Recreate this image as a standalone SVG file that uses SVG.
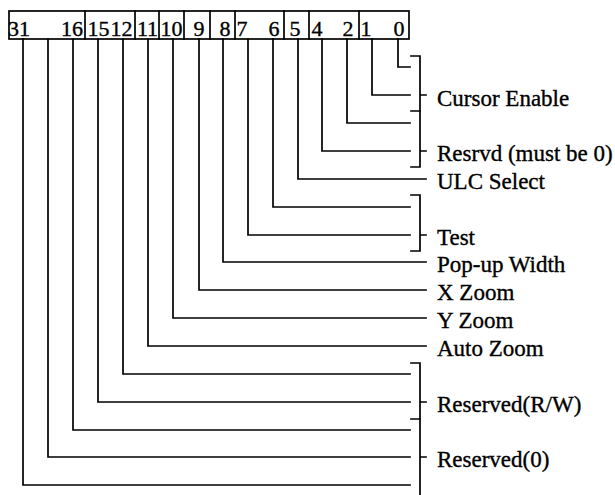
<svg xmlns="http://www.w3.org/2000/svg" width="615" height="495" viewBox="0 0 615 495">
<style>
.ln{fill:none;stroke:#000;stroke-width:1.7;stroke-linecap:square}
text{font-family:'Liberation Serif','DejaVu Serif',serif;font-size:23px;fill:#000;stroke:#000;stroke-width:0.35}
.num{text-anchor:middle;font-size:22px}
</style>
<rect width="615" height="495" fill="#fff"/>
<g id="register">
<rect class="ln" x="9" y="11" width="400" height="28"/>
<path class="ln" d="M85 11V39M135 11V39M159 11V39M184 11V39M210 11V39M235 11V39M284 11V39M309 11V39M359 11V39"/>
<text class="num" x="19" y="36">31</text>
<text class="num" x="72" y="36">16</text>
<text class="num" x="98.5" y="36">15</text>
<text class="num" x="121.5" y="36">12</text>
<text class="num" x="147.5" y="36">11</text>
<text class="num" x="171.5" y="36">10</text>
<text class="num" x="199" y="36">9</text>
<text class="num" x="225" y="36">8</text>
<text class="num" x="242" y="36">7</text>
<text class="num" x="274" y="36">6</text>
<text class="num" x="295" y="36">5</text>
<text class="num" x="317" y="36">4</text>
<text class="num" x="348" y="36">2</text>
<text class="num" x="366" y="36">1</text>
<text class="num" x="399" y="36">0</text>
</g>
<g id="connectors">
<path class="ln" d="M398 39V67H410"/>
<path class="ln" d="M372 39V95H410"/>
<path class="ln" d="M347 39V123H410"/>
<path class="ln" d="M322 39V151H410"/>
<path class="ln" d="M298 39V179H426"/>
<path class="ln" d="M273 39V207H410"/>
<path class="ln" d="M248 39V235H410"/>
<path class="ln" d="M223 39V262H426"/>
<path class="ln" d="M199 39V290H426"/>
<path class="ln" d="M173 39V318H426"/>
<path class="ln" d="M148 39V346H426"/>
<path class="ln" d="M123 39V374H410"/>
<path class="ln" d="M98 39V402H410"/>
<path class="ln" d="M73 39V430H410"/>
<path class="ln" d="M48 39V457H410"/>
<path class="ln" d="M23 39V485H410"/>
<path class="ln" d="M411 56H420V111H411M420 95H426"/>
<path class="ln" d="M420 111V167H411M420 151H426"/>
<path class="ln" d="M411 195H420V251H411M420 235H426"/>
<path class="ln" d="M411 363H420V419H411M420 402H426"/>
<path class="ln" d="M420 419V495M420 457H426"/>
</g>
<g id="label-cursor-enable"><text x="437" y="106">Cursor Enable</text></g>
<g id="label-resrvd"><text x="437" y="161">Resrvd (must be 0)</text></g>
<g id="label-ulc-select"><text x="437" y="189">ULC Select</text></g>
<g id="label-test"><text x="437" y="245">Test</text></g>
<g id="label-popup-width"><text x="437" y="272">Pop-up Width</text></g>
<g id="label-x-zoom"><text x="437" y="300">X Zoom</text></g>
<g id="label-y-zoom"><text x="437" y="328">Y Zoom</text></g>
<g id="label-auto-zoom"><text x="437" y="356">Auto Zoom</text></g>
<g id="label-reserved-rw"><text x="437" y="412">Reserved(R/W)</text></g>
<g id="label-reserved-0"><text x="437" y="467">Reserved(0)</text></g>
</svg>
